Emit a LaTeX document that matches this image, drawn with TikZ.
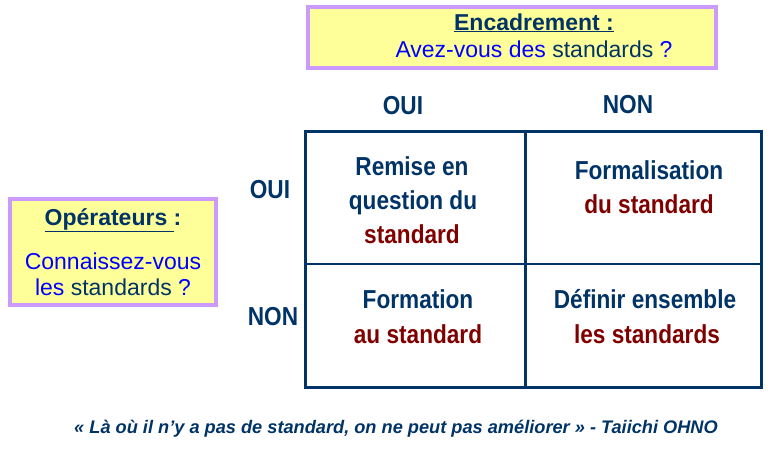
\documentclass[tikz,border=0pt]{standalone}
\usepackage{fontspec}
\setmainfont{Liberation Sans}
\newfontfamily\narrowfont[FakeStretch=0.87]{Liberation Sans}
\definecolor{navy}{RGB}{0,51,102}
\definecolor{maroon}{RGB}{128,0,0}
\definecolor{qblue}{RGB}{0,0,255}
\definecolor{qyellow}{RGB}{255,255,153}
\definecolor{qpurple}{RGB}{204,153,255}

\tikzset{
  qbox/.style={draw=qpurple, line width=4pt, fill=qyellow},
  grid/.style={draw=navy, line width=2.7pt},
  axis/.style={anchor=base, text=navy, font=\narrowfont\bfseries\fontsize{26}{30}\selectfont},
  cell/.style={anchor=base, text=navy, font=\narrowfont\bfseries\fontsize{26}{30}\selectfont},
  quest/.style={anchor=base, text=qblue, font=\fontsize{23}{27}\selectfont},
  title/.style={anchor=base, text=navy, font=\bfseries\fontsize{23}{27}\selectfont}
}

\begin{document}
\begin{tikzpicture}[x=1pt,y=-1pt]
  \useasboundingbox (0,0) rectangle (775,451);

  % question boxes
  \draw[qbox] (308,7) rectangle (716,68);
  \draw[qbox] (10,199) rectangle (216,305);
  \node (enc) [title] at (534,30) {\underline{Encadrement :}};
  \node (encq) [quest] at (534,57) {Avez-vous des \textcolor{navy}{standards} ?};
  \node (op) [title] at (113,225) {\underline{Opérateurs }:};
  \node (opq1) [quest] at (113,269) {Connaissez-vous};
  \node (opq2) [quest] at (113,295) {les \textcolor{navy}{standards} ?};

  % axis labels
  \node (coui) [axis] at (403,114) {OUI};
  \node (cnon) [axis] at (628,113) {NON};
  \node (roui) [axis] at (270,198) {OUI};
  \node (rnon) [axis] at (273,325) {NON};

  % matrix
  \draw[grid] (305.3,131.3) rectangle (761.3,387.5);
  \draw[grid] (525.3,131.3) -- (525.3,387.5);
  \draw[grid] (305.3,264) -- (761.3,264);

  \node (c11a) [cell] at (412,175) {Remise en};
  \node (c11b) [cell] at (413,209) {question du};
  \node (c11c) [cell, text=maroon] at (412,243) {standard};
  \node (c12a) [cell] at (649,179) {Formalisation};
  \node (c12b) [cell, text=maroon] at (649,213) {du standard};
  \node (c21a) [cell] at (418,308) {Formation};
  \node (c21b) [cell, text=maroon] at (418,343) {au standard};
  \node (c22a) [cell] at (645,308) {Définir ensemble};
  \node (c22b) [cell, text=maroon] at (647,343) {les standards};

  % quote
  \node (quote) [anchor=base, text=navy, font=\bfseries\itshape\fontsize{18.2}{21}\selectfont]
    at (396,433) {« Là où il n’y a pas de standard, on ne peut pas améliorer » - Taiichi OHNO};
\end{tikzpicture}
\end{document}
